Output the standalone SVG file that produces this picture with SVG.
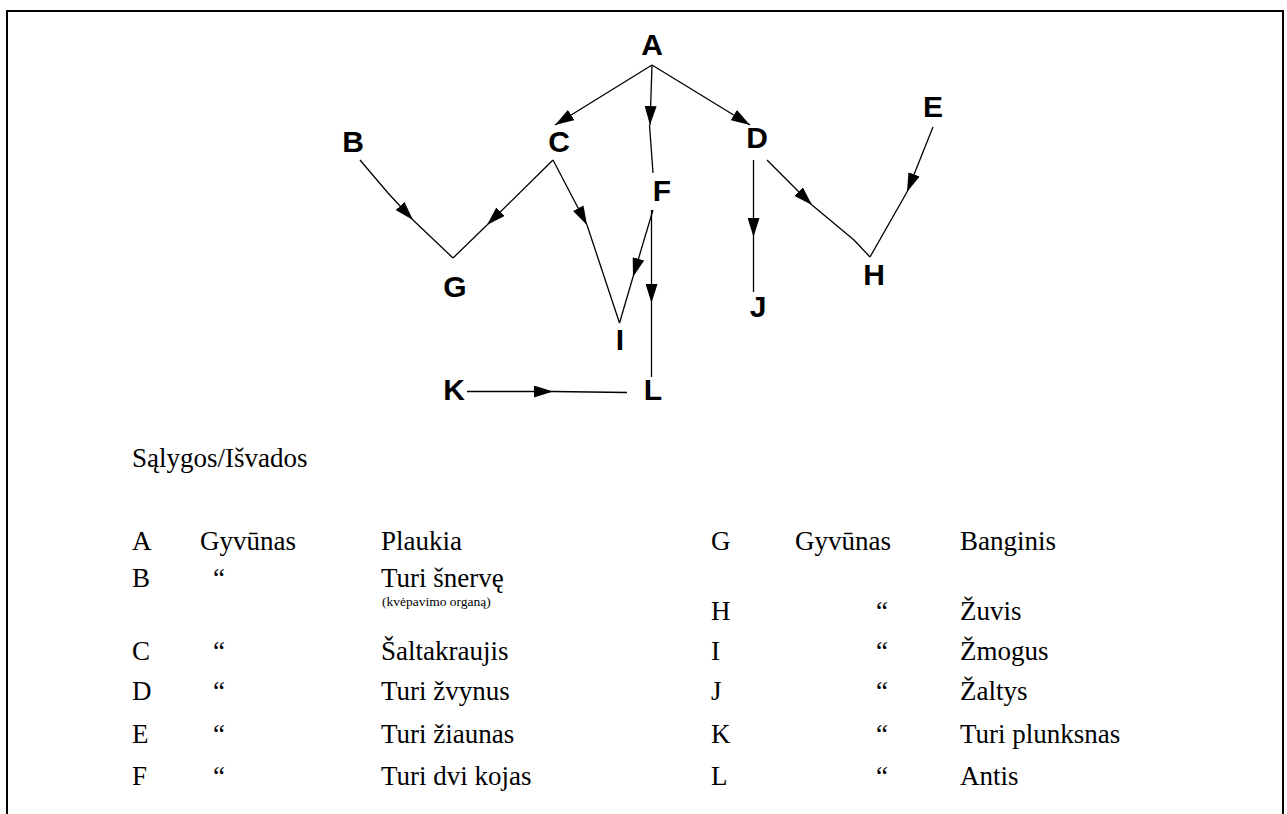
<svg xmlns="http://www.w3.org/2000/svg" width="1287" height="814" viewBox="0 0 1287 814">
  <style>
    .node { font-family: "Liberation Sans", Arial, sans-serif; font-weight: bold; font-size: 30px; fill: #000; text-anchor: middle; }
    .edge { fill: none; stroke: #000; stroke-width: 1.3; }
    .tbl { font-family: "Liberation Serif", "Times New Roman", serif; font-size: 27px; fill: #000; }
    .note { font-family: "Liberation Serif", "Times New Roman", serif; font-size: 13.5px; fill: #000; }
    .frame { fill: none; stroke: #000; stroke-width: 2; }
  </style>
  <defs>
    <marker id="arrow" viewBox="0 0 19 12" refX="19" refY="6" markerWidth="19" markerHeight="12" markerUnits="userSpaceOnUse" orient="auto">
      <path d="M0,0 L19,6 L0,12 z" fill="#000"/>
    </marker>
  </defs>

  <rect width="1287" height="814" fill="#fff"/>
  <path class="frame" d="M7,814 L7,11 L1283,11 L1283,814"/>

  <!-- connectors: each has an arrowed lead-in and a plain tail -->
  <g id="connectors">
    <path class="edge" d="M652,65 L555,125" marker-end="url(#arrow)"/>
    <path class="edge" d="M652,65 L650,125" marker-end="url(#arrow)"/>
    <path class="edge" d="M649.5,125 L653,173"/>
    <path class="edge" d="M652,65 L750,125" marker-end="url(#arrow)"/>

    <path class="edge" d="M360,160 L388,193 L413,220" marker-end="url(#arrow)"/>
    <path class="edge" d="M413,220 L453,258"/>
    <path class="edge" d="M553,160 L487,225" marker-end="url(#arrow)"/>
    <path class="edge" d="M487,225 L453,258"/>

    <path class="edge" d="M553,160 L587,225" marker-end="url(#arrow)"/>
    <path class="edge" d="M587,225 L619.5,323"/>
    <path class="edge" d="M653,210 L633,277" marker-end="url(#arrow)"/>
    <path class="edge" d="M633,277 L619.5,323"/>

    <path class="edge" d="M651.5,210 L651.5,303" marker-end="url(#arrow)"/>
    <path class="edge" d="M651.5,303 L651.5,377"/>

    <path class="edge" d="M753.5,160 L753.5,237" marker-end="url(#arrow)"/>
    <path class="edge" d="M753.5,237 L753.5,292"/>

    <path class="edge" d="M767,160 L812,205" marker-end="url(#arrow)"/>
    <path class="edge" d="M812,205 L854,240 L870,257"/>
    <path class="edge" d="M933,127 L907,192" marker-end="url(#arrow)"/>
    <path class="edge" d="M907,192 L870,257"/>

    <path class="edge" d="M467,391.5 L553,391.5" marker-end="url(#arrow)"/>
    <path class="edge" d="M553,391.5 L627,392.5"/>
  </g>

  <g id="node-A"><text class="node" x="652" y="55">A</text></g>
  <g id="node-B"><text class="node" x="353" y="152">B</text></g>
  <g id="node-C"><text class="node" x="559" y="152">C</text></g>
  <g id="node-D"><text class="node" x="757" y="148">D</text></g>
  <g id="node-E"><text class="node" x="933" y="117">E</text></g>
  <g id="node-F"><text class="node" x="662" y="201">F</text></g>
  <g id="node-G"><text class="node" x="455" y="297">G</text></g>
  <g id="node-H"><text class="node" x="874" y="285">H</text></g>
  <g id="node-I"><text class="node" x="620" y="350">I</text></g>
  <g id="node-J"><text class="node" x="758" y="317">J</text></g>
  <g id="node-K"><text class="node" x="454" y="400">K</text></g>
  <g id="node-L"><text class="node" x="653" y="400">L</text></g>

  <!-- legend table -->
  <g id="legend">
    <text class="tbl" x="132" y="467" font-size="28">Sąlygos/Išvados</text>

    <text class="tbl" x="132" y="550">A</text>
    <text class="tbl" x="200" y="550">Gyvūnas</text>
    <text class="tbl" x="381" y="550">Plaukia</text>

    <text class="tbl" x="132" y="587">B</text>
    <text class="tbl" x="213" y="587">“</text>
    <text class="tbl" x="381" y="587">Turi šnervę</text>
    <text class="note" x="382" y="606">(kvėpavimo organą)</text>

    <text class="tbl" x="132" y="660">C</text>
    <text class="tbl" x="213" y="660">“</text>
    <text class="tbl" x="381" y="660">Šaltakraujis</text>

    <text class="tbl" x="132" y="700">D</text>
    <text class="tbl" x="213" y="700">“</text>
    <text class="tbl" x="381" y="700">Turi žvynus</text>

    <text class="tbl" x="132" y="743">E</text>
    <text class="tbl" x="213" y="743">“</text>
    <text class="tbl" x="381" y="743">Turi žiaunas</text>

    <text class="tbl" x="132" y="785">F</text>
    <text class="tbl" x="213" y="785">“</text>
    <text class="tbl" x="381" y="785">Turi dvi kojas</text>

    <text class="tbl" x="711" y="550">G</text>
    <text class="tbl" x="795" y="550">Gyvūnas</text>
    <text class="tbl" x="960" y="550">Banginis</text>

    <text class="tbl" x="711" y="620">H</text>
    <text class="tbl" x="876" y="620">“</text>
    <text class="tbl" x="960" y="620">Žuvis</text>

    <text class="tbl" x="711" y="660">I</text>
    <text class="tbl" x="876" y="660">“</text>
    <text class="tbl" x="960" y="660">Žmogus</text>

    <text class="tbl" x="711" y="700">J</text>
    <text class="tbl" x="876" y="700">“</text>
    <text class="tbl" x="960" y="700">Žaltys</text>

    <text class="tbl" x="711" y="743">K</text>
    <text class="tbl" x="876" y="743">“</text>
    <text class="tbl" x="960" y="743">Turi plunksnas</text>

    <text class="tbl" x="711" y="785">L</text>
    <text class="tbl" x="876" y="785">“</text>
    <text class="tbl" x="960" y="785">Antis</text>
  </g>
</svg>
